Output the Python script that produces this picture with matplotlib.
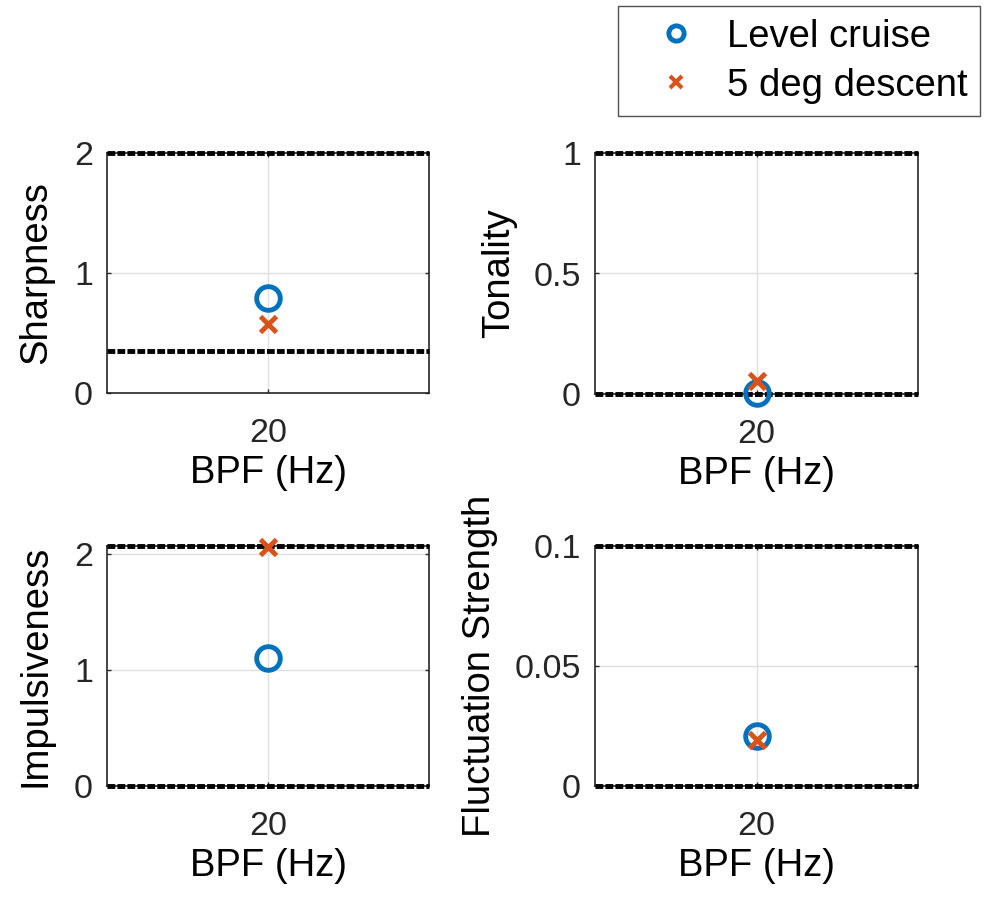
import matplotlib.pyplot as plt
from matplotlib.lines import Line2D

plt.rcParams['font.family'] = ['Liberation Sans', 'DejaVu Sans']

bpf = [20]

# metric values per flight condition
sharpness_cruise = [0.79]
sharpness_descent = [0.575]
tonality_cruise = [0.005]
tonality_descent = [0.055]
impulsive_cruise = [1.10]
impulsive_descent = [2.06]
fluct_cruise = [0.021]
fluct_descent = [0.019]

# threshold lines and axis limits
sharpness_limits = [0.35, 2.0]
tonality_limits = [0.0, 1.0]
impulsive_limits = [0.0, 2.07]
fluct_limits = [0.0, 0.1]

panels = [
    ("Sharpness", sharpness_cruise, sharpness_descent, sharpness_limits, (0, 2), [0, 1, 2], ["0", "1", "2"]),
    ("Tonality", tonality_cruise, tonality_descent, tonality_limits, (0, 1), [0, 0.5, 1], ["0", "0.5", "1"]),
    ("Impulsiveness", impulsive_cruise, impulsive_descent, impulsive_limits, (0, 2.07), [0, 1, 2], ["0", "1", "2"]),
    ("Fluctuation Strength", fluct_cruise, fluct_descent, fluct_limits, (0, 0.1), [0, 0.05, 0.1], ["0", "0.05", "0.1"]),
]

W, H = 987, 897
fig = plt.figure(figsize=(W / 100, H / 100), dpi=100)

# axes boxes in pixels: left, top, right, bottom
boxes = [(107, 153, 429, 393), (595, 153, 918, 394), (107, 546, 429, 786), (595, 546, 918, 786)]
# x position of the y label (axes fraction)
ylab_x = [-0.165, -0.242, -0.165, -0.300]

blue = '#0072BD'
orange = '#D95319'
tick_fs = 24.5
lab_fs = 27.5
tick_kw = dict(labelsize=tick_fs, direction='in', length=3, width=1,
               colors='#262626', labelcolor='#262626')

for (name, cr, de, lims, ylim, yt, ytl), (l, t, r, b), lx in zip(panels, boxes, ylab_x):
    ax = fig.add_axes([l / W, 1 - b / H, (r - l) / W, (b - t) / H])
    ax.set_xlim(15, 25)
    ax.set_ylim(*ylim)
    ax.set_xticks(bpf)
    ax.set_xticklabels([str(v) for v in bpf])
    ax.set_yticks(yt)
    ax.set_yticklabels(ytl)
    ax.grid(True, color='#E0E0E0', linewidth=1)
    ax.set_axisbelow(True)
    for lim in lims:
        ax.axhline(lim, color='black', linewidth=3.5, linestyle=(0, (1.6, 0.45)), zorder=3, clip_on=False)
    ax.plot(bpf, cr, 'o', markersize=17, markerfacecolor='none', markeredgecolor=blue,
            markeredgewidth=3.5, zorder=4, clip_on=False)
    ax.plot(bpf, de, 'x', markersize=11, markeredgecolor=orange, markeredgewidth=3.5,
            zorder=5, clip_on=False)
    ax.set_ylabel(name, fontsize=lab_fs)
    ax.yaxis.set_label_coords(lx, 0.5)
    ax.set_xlabel("BPF (Hz)", fontsize=lab_fs, labelpad=4.5)
    ax.tick_params(axis='x', pad=18, top=True, **tick_kw)
    ax.tick_params(axis='y', pad=10, right=True, **tick_kw)
    for s in ax.spines.values():
        s.set_color('#262626')
        s.set_linewidth(1.2)

handles = [
    Line2D([], [], linestyle='none', marker='o', markersize=11, markerfacecolor='none',
           markeredgecolor=blue, markeredgewidth=3.5, label='Level cruise'),
    Line2D([], [], linestyle='none', marker='x', markersize=8, markeredgecolor=orange,
           markeredgewidth=3, label='5 deg descent'),
]
fig.legend(handles=handles, loc='upper right', bbox_to_anchor=(980 / W, 1 - 6 / H),
           fontsize=lab_fs, frameon=True, fancybox=False, edgecolor='#262626',
           handletextpad=0.15, labelspacing=0.34, borderpad=0.33, handlelength=2.37,
           borderaxespad=0)

fig.savefig('out.png', dpi=100)
